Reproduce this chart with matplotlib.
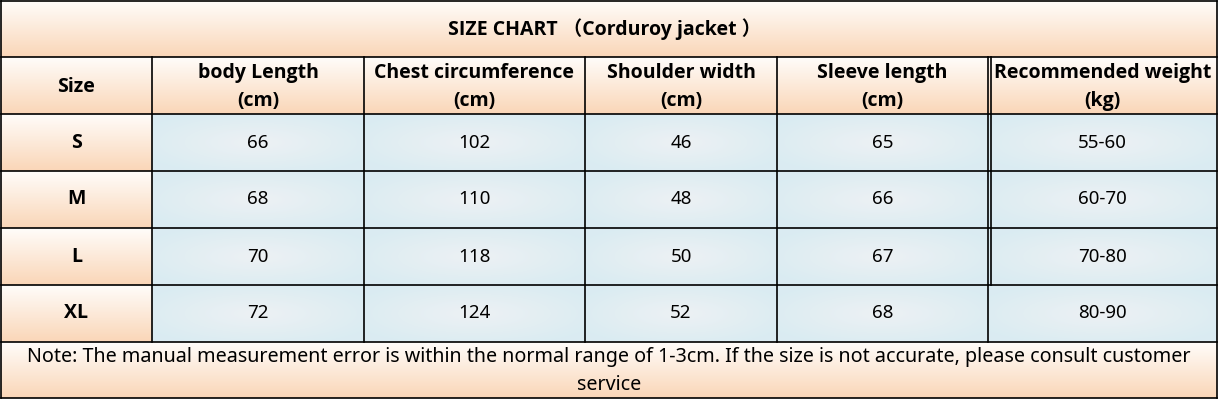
"""
plot.py
Recreates the corduroy jacket size chart as a matplotlib table figure.
"""
import numpy as np
import matplotlib.pyplot as plt

title = "SIZE CHART \uff08Corduroy jacket \uff09"
headers = ["Size", "body Length\n(cm)", "Chest circumference\n(cm)",
           "Shoulder width\n(cm)", "Sleeve length\n(cm)", "Recommended weight\n(kg)"]
sizes = ["S", "M", "L", "XL"]
body_length = [66, 68, 70, 72]
chest = [102, 110, 118, 124]
shoulder = [46, 48, 50, 52]
sleeve = [65, 66, 67, 68]
weight = ["55-60", "60-70", "70-80", "80-90"]
note = ("Note: The manual measurement error is within the normal range of 1-3cm. "
        "If the size is not accurate, please consult customer\nservice")

# grid in pixel units
col_x = [1, 152, 364, 585, 777, 988, 1217]
row_y = [1, 57, 114, 171, 228, 285, 342, 398]

FONT = ['Noto Sans', 'DejaVu Sans']
BOLD = ['Open Sans', 'Noto Sans CJK SC', 'DejaVu Sans']


def peach(ax, x0, x1, y0, y1):
    t = np.linspace(0, 1, 64)[:, None]
    top = np.array([1.0, 0.99, 0.98])
    bot = np.array([0.98, 0.84, 0.72])
    img = top + (bot - top) * t[..., None]
    img = np.repeat(img, 2, axis=1)
    ax.imshow(img, extent=(x0, x1, y1, y0), aspect='auto', interpolation='bilinear', zorder=0)


def bluecell(ax, x0, x1, y0, y1):
    gx, gy = np.meshgrid(np.linspace(-1, 1, 80), np.linspace(-1, 1, 40))
    r = np.clip(np.sqrt(gx ** 2 + gy ** 2) / 1.2, 0, 1)[..., None]
    centre = np.array([0.93, 0.945, 0.955])
    edge = np.array([0.855, 0.925, 0.95])
    img = centre + (edge - centre) * r
    ax.imshow(img, extent=(x0, x1, y1, y0), aspect='auto', interpolation='bilinear', zorder=0)


def main():
    fig = plt.figure(figsize=(12.19, 4.0), dpi=100)
    ax = fig.add_axes([0, 0, 1, 1])
    ax.set_xlim(0, 1219)
    ax.set_ylim(400, 0)
    ax.axis('off')

    lw = 1.2
    # title row
    peach(ax, col_x[0], col_x[-1], row_y[0], row_y[1])
    ax.text(605, (row_y[0] + row_y[1]) / 2, title, ha='center', va='center',
            fontsize=14, fontweight='bold', family=BOLD)

    # header row
    for j, h in enumerate(headers):
        x0, x1 = col_x[j], col_x[j + 1]
        peach(ax, x0, x1, row_y[1], row_y[2])
        ax.text((x0 + x1) / 2, (row_y[1] + row_y[2]) / 2 + 1.5, h, ha='center', va='center',
                fontsize=14, fontweight='bold', family=BOLD, linespacing=1.48)

    # body rows
    columns = [body_length, chest, shoulder, sleeve, weight]
    for i, s in enumerate(sizes):
        y0, y1 = row_y[i + 2], row_y[i + 3]
        peach(ax, col_x[0], col_x[1], y0, y1)
        ax.text((col_x[0] + col_x[1]) / 2, (y0 + y1) / 2, s, ha='center', va='center',
                fontsize=14, fontweight='bold', family=BOLD)
        for j, col in enumerate(columns):
            x0, x1 = col_x[j + 1], col_x[j + 2]
            bluecell(ax, x0, x1, y0, y1)
            ax.text((x0 + x1) / 2, (y0 + y1) / 2, str(col[i]), ha='center', va='center',
                    fontsize=13.5, family=FONT)

    # note row
    peach(ax, col_x[0], col_x[-1], row_y[-2], row_y[-1])
    ax.text(609, row_y[-2] + 29, note, ha='center', va='center',
            fontsize=14.2, family=FONT, linespacing=1.5)

    # grid lines
    for y in row_y:
        ax.plot([col_x[0], col_x[-1]], [y, y], color='black', lw=lw, zorder=3)
    for x in (col_x[0], col_x[-1]):
        ax.plot([x, x], [row_y[0], row_y[-1]], color='black', lw=lw, zorder=3)
    for x in col_x[1:-1]:
        ax.plot([x, x], [row_y[1], row_y[-2]], color='black', lw=lw, zorder=3)
    # double rule in front of the weight column
    ax.plot([col_x[5] + 2.5, col_x[5] + 2.5], [row_y[1], row_y[5]], color='black', lw=lw, zorder=3)

    fig.savefig("out.png", dpi=100)
    plt.close(fig)


if __name__ == "__main__":
    main()
